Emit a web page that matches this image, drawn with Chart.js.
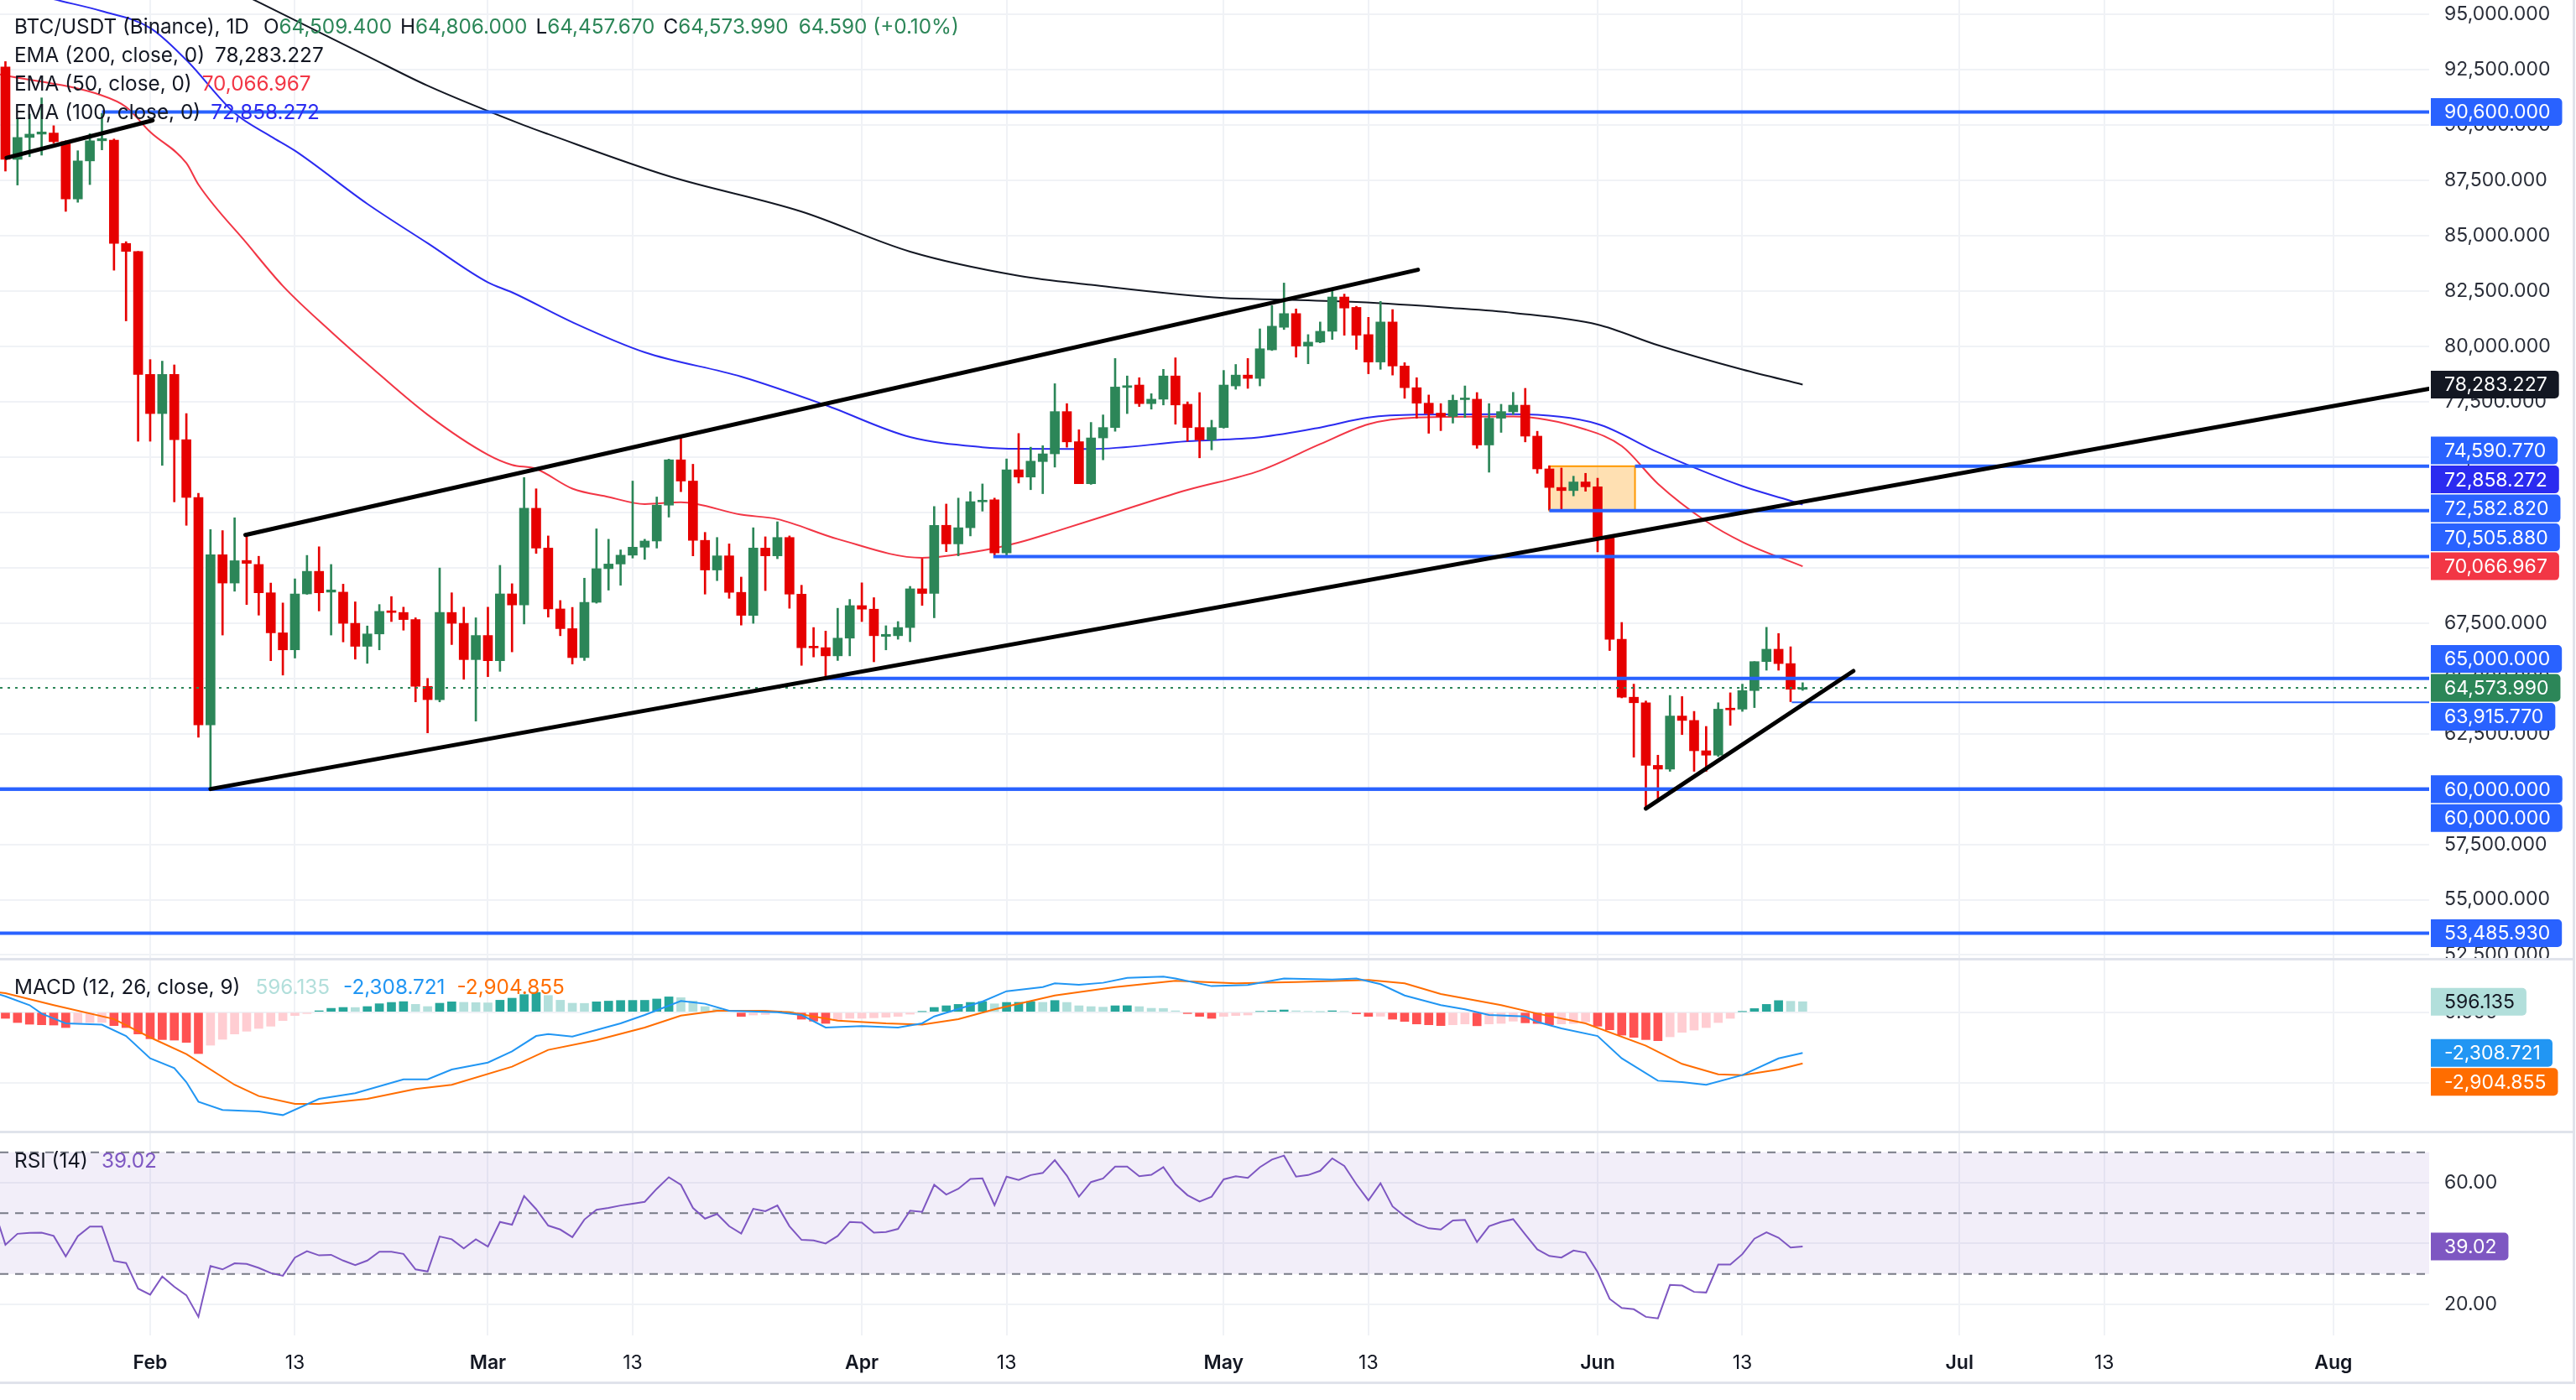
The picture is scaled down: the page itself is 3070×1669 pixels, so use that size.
<!DOCTYPE html>
<html>
<head>
<meta charset="utf-8">
<title>BTC/USDT 1D</title>
<script src="https://cdn.jsdelivr.net/npm/chart.js@4.4.1/dist/chart.umd.min.js"></script>
<style>
  html, body { margin: 0; padding: 0; background: #fff; }
  #page { position: relative; width: 3070px; height: 1669px; overflow: hidden; background: #fff; font-family: Inter, "Noto Sans", sans-serif; }
  #page canvas { position: absolute; left: 0; }
  .sep { position: absolute; background: #e0e3eb; }
  .legend { position: absolute; left: 17px; font-size: 24.3px; line-height: 34px; color: #131722; white-space: pre; z-index: 2; }
</style>
</head>
<body>
<div id="page">
  <canvas id="price" width="3070" height="1143" style="top:0"></canvas>
  <canvas id="macd" width="3070" height="206" style="top:1143px"></canvas>
  <canvas id="rsi" width="3070" height="299" style="top:1349px"></canvas>
  <div class="sep" style="left:0;top:1142px;width:3068px;height:3px"></div>
  <div class="sep" style="left:0;top:1348px;width:3068px;height:3px"></div>
  <div class="sep" style="left:0;top:1647px;width:3068px;height:3px"></div>
  <div class="sep" style="left:3066px;top:0;width:3px;height:1650px"></div>
  <div class="legend" id="legPrice" style="top:14px"></div>
  <div class="legend" id="legMacd" style="top:1159px"></div>
  <div class="legend" id="legRsi" style="top:1366px"></div>
</div>
<script>
// x values are days counted from 1 Feb (0 = Feb 1, 28 = Mar 1, ...)
const firstDay = -12;   // first candle: Jan 20

const opens = [92640,88460,89450,89600,89650,89260,86670,88390,89300,89330,84660,84300,
  78740,76970,78740,75790,73180,62900,70590,69310,70330,70150,68870,67060,66290,68820,69840,68900,68900,67490,66450,67010,68050,67980,67660,64640,64040,67980,67490,65850,66940,65800,68820,
  68320,72690,70890,68140,67250,65940,68440,69960,70170,70570,70930,71210,72830,74880,73920,71240,69900,70540,68890,67850,70890,70540,71370,68810,66420,66390,66020,66820,
  68290,68130,66900,66930,67300,69050,68840,71920,71080,71810,72980,73070,70670,74430,74100,74800,75150,77060,75700,73800,75870,76340,78150,78260,77420,77620,78670,77390,76340,75780,
  76340,78220,78710,78560,79850,80870,81490,80020,80200,80690,82240,81770,80540,79300,81110,79120,78140,77440,76990,76840,77600,77620,75550,76760,77050,77350,75950,74470,73630,73490,73880,
  73660,71430,66770,64150,63900,61070,60900,63300,63100,61730,61530,63650,63610,64450,65760,66320,65670,64509.4];
const highs = [92880,90300,90510,91240,89980,89300,88850,89620,90540,89380,84740,84300,
  79410,79340,79170,76970,73370,71730,71680,72260,71530,70520,69310,68410,69500,70560,70950,70150,69260,68460,67370,68340,68700,68220,67740,65000,69990,68870,68220,67740,68220,70110,69280,
  74080,73570,71440,68520,68210,69530,71760,71290,70810,73920,71290,73200,74910,75990,74680,71600,71370,71080,69580,71810,71400,72080,71440,69210,67300,67140,68170,68570,
  69320,68650,67380,67570,69160,70410,72770,72880,73150,73440,73790,73150,74920,76070,75450,75520,78320,77420,76240,76570,76910,79460,78670,78590,77870,78970,79490,77500,77920,76670,
  78920,79190,79460,80800,81850,82870,81700,80540,81110,82520,82370,81820,81320,82040,81670,79270,78590,77810,77420,77810,78220,77920,77420,77390,77930,78110,76170,74610,74510,74140,74270,
  74050,71430,67530,64740,63980,61530,64230,64180,63510,62830,63900,64350,64740,65760,67310,67030,66430,64806];
const lows = [87930,87300,88580,88650,89200,86110,86520,87320,88890,83450,81160,75720,
  75720,74630,72980,71920,62340,60000,66960,68940,68340,67860,65800,65150,65920,68800,68050,66960,66650,65870,65680,66290,67570,67180,63940,62540,63940,66530,64960,63070,65080,65320,66200,
  67460,70650,67770,66930,65650,65810,68400,68990,69210,70440,70380,70890,72290,73440,70540,68810,69420,68620,67410,67490,68970,70410,68170,65590,65970,65010,65810,66020,
  67570,65750,66290,66770,66660,68300,67740,70730,70540,71440,72560,70570,70570,73830,73530,73350,74550,75450,73800,73770,74880,76170,76970,77290,77170,77360,76490,75720,74970,75330,
  76310,78070,78110,78220,79820,80770,79520,79220,80170,80320,80510,79870,78770,78970,78710,77660,76760,76080,76200,76540,76790,75400,74320,76120,76930,75690,74270,72610,72580,73250,73460,
  70720,66260,64120,61440,59160,59490,60800,62460,60800,60800,61470,62880,63510,63680,65370,65370,63950,64457.67];
const closes = [88460,89450,89600,89700,89260,86670,88390,89300,89400,84660,84300,78740,
  76970,78740,75790,73180,62900,70590,69310,70320,70200,68870,67060,66290,68820,69840,68870,69000,67490,66450,67010,68030,67980,67660,64640,64040,67980,67490,65850,66940,65800,68820,68320,
  72690,70890,68140,67250,65940,68440,69960,70170,70570,70930,71210,72830,74880,73920,71240,69900,70540,68890,67850,70890,70540,71370,68810,66390,66380,66020,66820,68290,
  68130,66930,66990,67300,69050,68840,71920,71080,71810,72990,73020,70670,74430,74100,74820,75150,77060,75690,73800,75870,76340,78170,78230,77420,77620,78670,77360,76340,75780,76340,
  78260,78710,78560,79900,80920,81490,80020,80200,80690,82240,81740,80510,79300,81110,79120,78140,77440,76970,76840,77570,77650,75550,76760,77060,77350,75950,74470,73630,73490,73880,73660,
  71390,66770,64150,63900,61070,60900,63300,63100,61730,61530,63610,63580,64450,65760,66320,65670,64509.4,64573.99];

// moving averages at sample days
const ema200Days = [0, 9, 18, 23, 31, 33, 43, 54, 63, 72, 78, 89, 94, 100, 108, 113, 120, 125, 132, 137];
const ema200Vals = [98000, 95560, 93130, 91790, 90000, 89600, 87700, 86100, 84290, 83200, 82790, 82190, 82120, 82010, 81740, 81520, 80990, 80060, 78960, 78283.227];
const ema100Days = [-12, -8, -4, 0, 3, 7, 10, 12, 18, 23, 28, 30, 35, 41, 49, 56, 63, 69, 72, 78, 86, 92, 97, 101, 105, 113, 120, 125, 132, 136, 137];
const ema100Vals = [96300, 95700, 95160, 94400, 92950, 90550, 89500, 88850, 86450, 84670, 82900, 82450, 81100, 79740, 78640, 77350, 75910, 75450, 75380, 75370, 75720, 75900, 76340, 76790, 76920, 76940, 76500, 75220, 73690, 73030, 72858.272];
const ema50Days = [-13, -12, -4, -2, 0, 3, 4, 8, 11, 15, 18, 23, 28, 30, 32, 35, 38, 41, 44, 49, 52, 57, 64, 69, 72, 75, 81, 86, 92, 97, 101, 105, 113, 119, 122, 125, 129, 132, 137];
const ema50Vals = [92350, 92250, 91350, 90830, 89700, 88290, 87320, 84670, 82740, 80670, 79220, 76920, 75110, 74650, 74470, 73580, 73200, 72880, 72960, 72400, 72200, 71300, 70450, 70780, 71140, 71630, 72670, 73520, 74390, 75590, 76490, 76790, 76840, 76250, 75500, 73800, 72100, 71170, 70066.967];

// drawings: [day1, price1, day2, price2]
const trendLines = [
  [-11.9, 88530, 0.2, 90223],
  [7.9, 71482, 105.1, 83470],
  [5.0, 60000, 188.94, 78090],
  [124.0, 59120, 141.2, 65333]
];
// horizontal levels: price, first day, thin flag
const levelPrices = [90600, 74590.77, 72582.82, 70505.88, 65000, 63915.77, 60000, 60000, 53485.93];
const levelStarts = [-4, 123.1, 116, 69.9, 56, 136.1, -12.45, -12.45, -12.45];
const levelThin = [false, false, false, false, false, true, false, false, false];
const zoneBox = { fromDay: 116, toDay: 123.1, top: 74590.77, bottom: 72582.82 };

// MACD (12, 26, 9)
const macdHist = [-349,-587,-682,-714,-730,-873,-610,-590,-580,-762,-873,-1238,
  -1508,-1555,-1587,-1714,-2349,-1873,-1539,-1238,-1079,-920,-794,-476,-190,-79,80,220,270,265,320,480,555,600,445,320,510,590,560,545,530,680,795,
  1000,1120,950,680,510,500,590,630,665,670,675,750,870,825,635,320,190,80,-240,-160,-127,60,25,-397,-508,-635,-476,-349,
  -345,-317,-286,-238,-111,32,270,365,444,555,603,476,555,560,605,560,665,555,365,317,286,365,370,317,222,215,79,-79,-238,-349,
  -238,-190,-159,40,79,127,79,40,20,79,40,-95,-238,-230,-397,-524,-667,-714,-762,-714,-667,-770,-667,-635,-508,-603,-640,-714,-667,-640,-555,
  -794,-1000,-1301,-1428,-1555,-1619,-1397,-1143,-1016,-873,-587,-349,30,206,444,660,620,596.135];
const macdDays = [-13, -12, -10, -9, -7, -4, -2, 0, 2, 3, 4, 6, 9, 11, 14, 17, 21, 23, 25, 28, 30, 32, 33, 35, 39, 41, 44, 46, 48, 52, 54, 56, 59, 62, 64, 65, 69, 71, 74, 75, 77, 79, 81, 84, 85, 88, 91, 94, 98, 100, 102, 104, 107, 109, 111, 114, 115, 117, 120, 122, 125, 127, 129, 132, 135, 137];
const macdVals = [1110, 900, 400, -80, -630, -710, -1350, -2620, -3170, -3970, -5080, -5550, -5630, -5840, -4920, -4600, -3810, -3810, -3250, -2860, -2220, -1350, -1240, -1380, -630, -160, 640, 480, 80, 0, -160, -870, -790, -870, -630, -240, 605, 1190, 1430, 1640, 1560, 1670, 1950, 2020, 1910, 1480, 1540, 1910, 1860, 1910, 1590, 950, 400, 160, -160, -240, -550, -920, -1350, -2620, -3890, -3970, -4120, -3570, -2620, -2308.721];
const signalDays = [-13, -12, -8, -3, 0, 3, 7, 9, 12, 14, 18, 22, 25, 30, 33, 37, 41, 44, 47, 51, 53, 57, 61, 64, 67, 70, 75, 80, 85, 90, 95, 101, 104, 107, 112, 115, 119, 124, 127, 130, 132, 135, 137];
const signalVals = [1160, 1080, 400, -390, -1430, -2380, -4120, -4760, -5200, -5200, -4920, -4360, -4120, -3090, -2140, -1590, -870, -190, 80, 80, 0, -475, -633, -700, -395, 160, 954, 1430, 1780, 1640, 1716, 1827, 1637, 1034, 399, -79, -633, -1903, -2935, -3523, -3569, -3251, -2904.855];

// RSI (14), one value per day starting at day -13
const rsiFirstDay = -13;
const rsiVals = [52,39.6,43.2,43.5,43.6,42.5,35.8,42.4,45.6,45.6,34.3,33.6,25.2,
  23.2,29.2,25.8,23.0,15.9,32.6,31.5,33.5,33.3,32.0,30.3,29.4,35.4,37.5,36.1,36.3,34.4,32.9,34.4,37.3,37.3,36.6,31.5,30.8,42.3,41.4,38.4,41.4,39.0,47.1,46.2,
  55.6,51.3,45.9,44.6,42.1,47.9,51.1,51.7,52.5,53.1,53.7,58.0,61.8,59.3,51.7,48.2,49.7,45.7,43.3,51.4,50.6,52.5,45.7,41.2,41.0,40.0,42.5,47.1,
  46.9,43.6,43.8,44.8,50.8,50.4,59.3,56.1,58.0,61.2,61.4,52.6,62.0,60.9,62.5,63.2,67.4,62.3,55.4,60.2,61.4,65.3,65.3,62.1,62.6,65.1,59.5,55.9,53.8,55.4,
  61.1,62.1,61.6,65.1,67.6,68.9,62.0,62.5,63.9,68.0,65.5,59.5,54.2,59.8,52.2,49.0,46.5,45.0,44.6,47.6,47.8,40.5,45.7,47.1,48.0,43.0,38.1,35.9,35.4,37.7,37.0,
  30.6,21.8,18.8,18.4,15.9,15.4,26.4,26.2,24.1,23.9,33.1,33.1,36.5,41.6,43.7,41.9,38.7,39.02];

// axes
const tickDays = [0, 12, 28, 40, 59, 71, 89, 101, 120, 132, 150, 162, 181];
const tickLabels = ['Feb', '13', 'Mar', '13', 'Apr', '13', 'May', '13', 'Jun', '13', 'Jul', '13', 'Aug'];
const priceTicks = [52500, 55000, 57500, 60000, 62500, 65000, 67500, 70000, 72500, 75000, 77500, 80000, 82500, 85000, 87500, 90000, 92500, 95000];
const macdTicks = [-4000, 0];
const rsiTicks = [20, 40, 60];

// ---------- styling ----------
const FONT = 'Inter, "Noto Sans", sans-serif';
const AXIS_PX = 23;
const UP = '#2c8658', DOWN = '#e60000';
const BLUE = '#2962ff', GRID = '#f0f2f6', AXIS_TEXT = '#2a2e39';
const C200 = '#131722', C50 = '#f23645', C100 = '#2b2bf0';
const X_MIN = -12.45, X_MAX = 188.94;

const f3 = v => v.toLocaleString('en-US', { minimumFractionDigits: 3, maximumFractionDigits: 3 });
const f2 = v => v.toLocaleString('en-US', { minimumFractionDigits: 2, maximumFractionDigits: 2 });
const pts = (days, vals) => days.map((d, i) => ({ x: d, y: vals[i] }));

function xAxis(withLabels) {
  return {
    type: 'linear', min: X_MIN, max: X_MAX, offset: false,
    grid: { color: GRID, lineWidth: 2, drawTicks: false, offset: false },
    border: { display: false },
    afterBuildTicks: s => { s.ticks = tickDays.map(v => ({ value: v })); },
    ticks: {
      display: withLabels, autoSkip: false, maxRotation: 0, padding: 19, color: '#131722',
      font: c => ({ family: FONT, size: 23, weight: isNaN(+tickLabels[c.index]) ? '600' : '400' }),
      callback: (v, i) => tickLabels[i]
    },
    afterFit: s => { s.height = withLabels ? 56 : 0; s.paddingLeft = 0; s.paddingRight = 0; }
  };
}
function yAxis(min, max, ticks, fmt) {
  return {
    type: 'linear', position: 'right', min, max,
    grid: { color: GRID, lineWidth: 2, drawTicks: false },
    border: { display: false },
    afterBuildTicks: s => { s.ticks = ticks.map(v => ({ value: v })); },
    ticks: { padding: 18, color: AXIS_TEXT, font: { family: FONT, size: AXIS_PX }, callback: v => fmt(v) },
    afterFit: s => { s.width = 175; s.paddingTop = 0; s.paddingBottom = 0; }
  };
}

// price labels on the right axis, stacked away from anchored labels like TradingView does
function axisLabels(id, items) {
  return {
    id,
    afterDraw(chart) {
      const { ctx } = chart, ys = chart.scales.y;
      const H = 33, STEP = 34.5;
      const list = items.map((it, k) => Object.assign({}, it, { k, y: ys.getPixelForValue(it.value) }));
      list.sort((a, b) => a.y - b.y || a.k - b.k);
      const anchors = [];
      list.forEach((it, i) => { if (it.anchor) { it.pos = it.y; anchors.push(i); } });
      const owner = list.map((it, i) => {
        let best = anchors[0];
        anchors.forEach(a => { if (Math.abs(list[a].y - it.y) < Math.abs(list[best].y - it.y)) best = a; });
        return best;
      });
      anchors.forEach(a => {
        let prev = list[a].pos;
        for (let i = a - 1; i >= 0; i--) if (owner[i] === a && !list[i].anchor) { list[i].pos = Math.min(list[i].y, prev - STEP); prev = list[i].pos; }
        prev = list[a].pos;
        for (let i = a + 1; i < list.length; i++) if (owner[i] === a && !list[i].anchor) { list[i].pos = Math.max(list[i].y, prev + STEP); prev = list[i].pos; }
      });
      ctx.save();
      ctx.font = `${AXIS_PX}px ${FONT}`;
      ctx.textBaseline = 'middle';
      list.forEach(it => {
        const w = ctx.measureText(it.text).width + 30;
        ctx.fillStyle = it.bg;
        ctx.beginPath();
        ctx.roundRect(2897, it.pos - H / 2, w, H, [0, 5, 5, 0]);
        ctx.fill();
        ctx.fillStyle = it.fg || '#ffffff';
        ctx.fillText(it.text, 2913, it.pos + 1);
      });
      ctx.restore();
    }
  };
}

const zonePlugin = {
  id: 'zone',
  beforeDatasetsDraw(chart) {
    const { ctx } = chart, x = chart.scales.x, y = chart.scales.y;
    const x0 = x.getPixelForValue(zoneBox.fromDay), x1 = x.getPixelForValue(zoneBox.toDay);
    const y0 = y.getPixelForValue(zoneBox.top), y1 = y.getPixelForValue(zoneBox.bottom);
    ctx.save();
    ctx.fillStyle = 'rgba(255, 152, 0, 0.3)';
    ctx.fillRect(x0, y0, x1 - x0, y1 - y0);
    ctx.strokeStyle = '#ff9800';
    ctx.lineWidth = 2;
    ctx.strokeRect(x0, y0, x1 - x0, y1 - y0);
    ctx.restore();
  }
};

const rsiBand = {
  id: 'rsiBand',
  beforeDatasetsDraw(chart) {
    const { ctx, chartArea: a } = chart, y = chart.scales.y;
    const t = y.getPixelForValue(70), m = y.getPixelForValue(50), b = y.getPixelForValue(30);
    ctx.save();
    ctx.fillStyle = 'rgba(126, 87, 194, 0.1)';
    ctx.fillRect(a.left, t, a.right - a.left, b - t);
    ctx.strokeStyle = '#787b86';
    ctx.lineWidth = 2;
    ctx.setLineDash([10, 8]);
    [t, m, b].forEach(v => { ctx.beginPath(); ctx.moveTo(a.left, v); ctx.lineTo(a.right, v); ctx.stroke(); });
    ctx.restore();
  }
};

const baseOptions = {
  responsive: false, animation: false, devicePixelRatio: 1,
  layout: { padding: 0 },
  plugins: { legend: { display: false }, tooltip: { enabled: false } },
  elements: { point: { radius: 0 } }
};

// ---------- price pane ----------
const days = opens.map((_, i) => firstDay + i);
const candleColors = opens.map((o, i) => closes[i] >= o ? UP : DOWN);
const lastClose = closes[closes.length - 1];

const priceSets = [];
trendLines.forEach(t => priceSets.push({
  type: 'line', data: [{ x: t[0], y: t[1] }, { x: t[2], y: t[3] }],
  borderColor: '#000000', borderWidth: 5, borderCapStyle: 'round', order: 0
}));
levelPrices.forEach((p, i) => priceSets.push({
  type: 'line', data: [{ x: levelStarts[i], y: p }, { x: X_MAX, y: p }],
  borderColor: BLUE, borderWidth: levelThin[i] ? 2 : 4, order: 1
}));
priceSets.push({
  type: 'line', data: [{ x: X_MIN, y: lastClose }, { x: X_MAX, y: lastClose }],
  borderColor: UP, borderWidth: 2, borderDash: [3, 6], order: 1
});
priceSets.push({
  type: 'bar', data: days.map((d, i) => ({ x: d, y: [opens[i], closes[i]] })),
  backgroundColor: candleColors, barThickness: 11, minBarLength: 2, grouped: false, order: 2
});
priceSets.push({
  type: 'bar', data: days.map((d, i) => ({ x: d, y: [lows[i], highs[i]] })),
  backgroundColor: candleColors, barThickness: 2, grouped: false, order: 3
});
[[ema200Days, ema200Vals, C200], [ema100Days, ema100Vals, C100], [ema50Days, ema50Vals, C50]].forEach(e => priceSets.push({
  type: 'line', data: pts(e[0], e[1]), borderColor: e[2], borderWidth: 2,
  cubicInterpolationMode: 'monotone', order: 4
}));

const priceLabels = [
  { value: levelPrices[0], text: f3(levelPrices[0]), bg: BLUE },
  { value: ema200Vals[ema200Vals.length - 1], text: f3(ema200Vals[ema200Vals.length - 1]), bg: C200 },
  { value: levelPrices[1], text: f3(levelPrices[1]), bg: BLUE },
  { value: ema100Vals[ema100Vals.length - 1], text: f3(ema100Vals[ema100Vals.length - 1]), bg: C100 },
  { value: levelPrices[2], text: f3(levelPrices[2]), bg: BLUE },
  { value: levelPrices[3], text: f3(levelPrices[3]), bg: BLUE },
  { value: ema50Vals[ema50Vals.length - 1], text: f3(ema50Vals[ema50Vals.length - 1]), bg: C50, anchor: true },
  { value: levelPrices[4], text: f3(levelPrices[4]), bg: BLUE },
  { value: lastClose, text: f3(lastClose), bg: UP, anchor: true },
  { value: levelPrices[5], text: f3(levelPrices[5]), bg: BLUE },
  { value: levelPrices[6], text: f3(levelPrices[6]), bg: BLUE, anchor: true },
  { value: levelPrices[7], text: f3(levelPrices[7]), bg: BLUE },
  { value: levelPrices[8], text: f3(levelPrices[8]), bg: BLUE }
];

new Chart(document.getElementById('price'), {
  type: 'bar',
  data: { datasets: priceSets },
  options: Object.assign({}, baseOptions, {
    scales: { x: xAxis(false), y: yAxis(52328, 95663, priceTicks, f3) }
  }),
  plugins: [zonePlugin, axisLabels('priceLabels', priceLabels)]
});

// ---------- MACD pane ----------
const histColors = macdHist.map((h, i) => {
  const prev = i > 0 ? macdHist[i - 1] : 0;
  if (h >= 0) return h > prev ? '#26a69a' : '#b2dfdb';
  return h < prev ? '#ff5252' : '#ffcdd2';
});
const lastMacd = macdVals[macdVals.length - 1], lastSignal = signalVals[signalVals.length - 1];
const lastHist = macdHist[macdHist.length - 1];

new Chart(document.getElementById('macd'), {
  type: 'bar',
  data: {
    datasets: [
      { type: 'line', data: pts(macdDays, macdVals), borderColor: '#2196f3', borderWidth: 2, order: 0 },
      { type: 'line', data: pts(signalDays, signalVals), borderColor: '#ff6d00', borderWidth: 2, order: 1 },
      { type: 'bar', data: macdHist.map((h, i) => ({ x: firstDay + i, y: h })), backgroundColor: histColors, barThickness: 10, order: 2 }
    ]
  },
  options: Object.assign({}, baseOptions, {
    scales: { x: xAxis(false), y: yAxis(-6776, 3033, macdTicks, f3) }
  }),
  plugins: [axisLabels('macdLabels', [
    { value: lastHist, text: f3(lastHist), bg: '#b2dfdb', fg: '#131722' },
    { value: lastMacd, text: f3(lastMacd), bg: '#2196f3', anchor: true },
    { value: lastSignal, text: f3(lastSignal), bg: '#ff6d00' }
  ])]
});

// ---------- RSI pane ----------
const lastRsi = rsiVals[rsiVals.length - 1];
new Chart(document.getElementById('rsi'), {
  type: 'line',
  data: {
    datasets: [
      { data: rsiVals.map((v, i) => ({ x: rsiFirstDay + i, y: v })), borderColor: '#7e57c2', borderWidth: 2 }
    ]
  },
  options: Object.assign({}, baseOptions, {
    scales: { x: xAxis(true), y: yAxis(9.8, 76.8, rsiTicks, f2) }
  }),
  plugins: [rsiBand, axisLabels('rsiLabels', [
    { value: lastRsi, text: f2(lastRsi), bg: '#7e57c2', anchor: true }
  ])]
});

// ---------- legends ----------
const last = opens.length - 1;
const chg = closes[last] - opens[last];
const gv = s => `<span style="color:${UP}">${s}</span>`;
document.getElementById('legPrice').innerHTML =
  `BTC/USDT (Binance), 1D<span style="margin-left:17px">O${gv(f3(opens[last]))}</span>` +
  `<span style="margin-left:10px">H${gv(f3(highs[last]))}</span>` +
  `<span style="margin-left:10px">L${gv(f3(lows[last]))}</span>` +
  `<span style="margin-left:10px">C${gv(f3(closes[last]))}</span>` +
  `<span style="margin-left:12px;color:${UP}">${f3(chg)} (+${(chg / opens[last] * 100).toFixed(2)}%)</span>\n` +
  `EMA (200, close, 0)<span style="margin-left:12px;color:${C200}">${f3(ema200Vals[ema200Vals.length - 1])}</span>\n` +
  `EMA (50, close, 0)<span style="margin-left:12px;color:${C50}">${f3(ema50Vals[ema50Vals.length - 1])}</span>\n` +
  `EMA (100, close, 0)<span style="margin-left:12px;color:${C100}">${f3(ema100Vals[ema100Vals.length - 1])}</span>`;
document.getElementById('legMacd').innerHTML =
  `MACD (12, 26, close, 9)<span style="margin-left:18px;color:#b2dfdb">${f3(lastHist)}</span>` +
  `<span style="margin-left:16px;color:#2196f3">${f3(lastMacd)}</span>` +
  `<span style="margin-left:14px;color:#ff6d00">${f3(lastSignal)}</span>`;
document.getElementById('legRsi').innerHTML =
  `RSI (14)<span style="margin-left:16px;color:#7e57c2">${f2(lastRsi)}</span>`;
</script>
</body>
</html>
